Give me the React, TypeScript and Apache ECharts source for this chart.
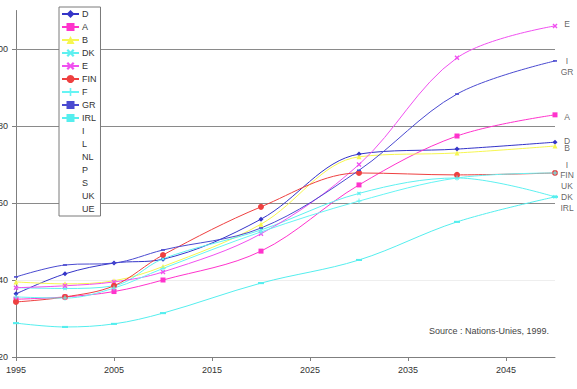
import React, { useEffect, useRef } from "react";
import * as echarts from "echarts";

// Years with projected values
const years = [1995, 2000, 2005, 2010, 2020, 2030, 2040, 2050];

// Axis tick values
const xTickYears = [1995, 2005, 2015, 2025, 2035, 2045];
const yTickValues = [20, 40, 60, 80, 100];
const gridValues = [40, 60, 80, 100];

// Series values per country
const dValues = [36.4, 41.6, 44.4, 45.4, 55.8, 72.7, 74.0, 75.8];
const aValues = [35.0, 35.6, 37.0, 40.0, 47.5, 64.7, 77.4, 82.9];
const bValues = [39.5, 39.0, 39.8, 43.5, 54.5, 72.0, 73.0, 74.8];
const dkValues = [38.0, 37.8, 38.5, 45.5, 53.0, 62.5, 66.5, 61.6];
const eValues = [38.0, 38.5, 39.5, 42.1, 52.0, 70.0, 97.7, 106.0];
const finValues = [34.3, 35.6, 38.5, 46.5, 59.0, 67.8, 67.3, 67.8];
const fValues = [35.6, 35.3, 37.9, 43.0, 52.5, 60.5, 66.5, 67.8];
const grValues = [40.8, 43.9, 44.4, 47.8, 53.5, 68.5, 88.3, 96.9];
const irlValues = [28.8, 27.8, 28.6, 31.4, 39.2, 45.2, 55.1, 61.6];

// Legend order
const countries = ["D", "A", "B", "DK", "E", "FIN", "F", "GR", "IRL", "I", "L", "NL", "P", "S", "UK", "UE"];

// Names written at the right end of the plot, with the level they sit at
const endLabelNames = ["E", "I", "GR", "A", "D", "B", "I", "FIN", "UK", "DK", "IRL"];
const endLabelLevels = [106.5, 97.0, 94.1, 82.3, 76.2, 74.3, 70.0, 67.3, 64.5, 61.6, 58.8];

const sourceNote = "Source : Nations-Unies, 1999.";

const valuesByCountry: Record<string, number[]> = {
  D: dValues,
  A: aValues,
  B: bValues,
  DK: dkValues,
  E: eValues,
  FIN: finValues,
  F: fValues,
  GR: grValues,
  IRL: irlValues,
};

const crossPath = "path://M0,2L2,0L5,3L8,0L10,2L7,5L10,8L8,10L5,7L2,10L0,8L3,5Z";
const plusPath = "path://M4,0H6V4H10V6H6V10H4V6H0V4H4Z";
const dashPath = "path://M0,0H10V4H0Z";
const barPath = "path://M0,0H10V3.5H0Z";

const styles: Record<string, { color: string; symbol: string; size: number | number[] }> = {
  D: { color: "#3434c8", symbol: "diamond", size: 5 },
  A: { color: "#ff33cc", symbol: "rect", size: 5 },
  B: { color: "#f6f650", symbol: "triangle", size: 5 },
  DK: { color: "#5ef0f0", symbol: crossPath, size: 4 },
  E: { color: "#f050f0", symbol: crossPath, size: 5 },
  FIN: { color: "#ee4040", symbol: "circle", size: 6 },
  F: { color: "#66f4f4", symbol: plusPath, size: 5 },
  GR: { color: "#4a4ad0", symbol: dashPath, size: 4 },
  IRL: { color: "#55eeee", symbol: barPath, size: 6 },
};

const FONT = "Liberation Sans, Arial, sans-serif";

export default function App() {
  const ref = useRef<HTMLDivElement>(null);

  useEffect(() => {
    if (!ref.current) return;
    const chart = echarts.init(ref.current, null, { renderer: "svg" });

    const series: any[] = countries.map((name, idx) => {
      const values = valuesByCountry[name];
      if (!values) {
        // countries drawn in white: present in the legend only
        return {
          type: "line",
          name,
          data: [],
          symbol: "none",
          lineStyle: { color: "#ffffff", width: 1 },
          itemStyle: { color: "#ffffff" },
        };
      }
      const st = styles[name];
      const s: any = {
        type: "line",
        name,
        data: years.map((y, i) => [y, values[i]]),
        smooth: 0.35,
        symbol: st.symbol,
        symbolSize: st.size,
        symbolKeepAspect: true,
        showSymbol: true,
        lineStyle: { color: st.color, width: 1 },
        itemStyle: { color: st.color },
        emphasis: { disabled: true },
        z: 3,
      };
      if (idx === 0) {
        s.markLine = {
          silent: true,
          symbol: ["none", "none"],
          label: { show: false },
          emphasis: { disabled: true },
          lineStyle: { color: "#8a8a8a", width: 1, type: "solid" },
          data: gridValues.map((v) =>
            v === 40
              ? { yAxis: v, lineStyle: { color: "#eeeeee", width: 1, type: "solid" } }
              : { yAxis: v }
          ),
          z: 1,
        };
      }
      return s;
    });

    series.push({
      type: "scatter",
      name: "end-names",
      silent: true,
      symbolSize: 0,
      data: endLabelNames.map((n, i) => ({ name: n, value: [2050, endLabelLevels[i]] })),
      label: {
        show: true,
        formatter: "{b}",
        position: [12, 0],
        align: "center",
        verticalAlign: "middle",
        fontSize: 8.5,
        fontFamily: FONT,
        color: "#3a3a3a",
      },
      z: 5,
    });

    chart.setOption({
      animation: false,
      backgroundColor: "#ffffff",
      grid: {
        left: 16,
        right: 22,
        top: 10.5,
        bottom: 32,
        containLabel: false,
        outerBoundsMode: "none",
      },
      legend: {
        data: countries,
        orient: "vertical",
        left: 59,
        top: 7,
        padding: [2, 4, 2, 2],
        itemGap: 3,
        itemWidth: 17,
        itemHeight: 10,
        backgroundColor: "#ffffff",
        borderColor: "#7a7a7a",
        borderWidth: 1,
        selectedMode: false,
        textStyle: { fontSize: 9, fontFamily: FONT, color: "#333333", padding: [0, 0, 0, -2], lineHeight: 10 },
        z: 10,
      },
      xAxis: {
        type: "value",
        min: 1995,
        max: 2050,
        axisLine: { show: true, lineStyle: { color: "#7f7f7f", width: 1 } },
        axisTick: { show: true, length: 4, customValues: xTickYears, lineStyle: { color: "#7f7f7f" } },
        axisLabel: {
          customValues: xTickYears,
          margin: 8,
          fontSize: 9,
          fontFamily: FONT,
          color: "#333333",
          formatter: (v: number) => String(v),
        },
        splitLine: { show: false },
      },
      yAxis: {
        type: "value",
        min: 20,
        max: 110,
        axisLine: { show: true, lineStyle: { color: "#7f7f7f", width: 1 } },
        axisTick: { show: true, length: 4, customValues: yTickValues, lineStyle: { color: "#7f7f7f" } },
        axisLabel: {
          customValues: yTickValues,
          margin: 8,
          fontSize: 9,
          fontFamily: FONT,
          color: "#333333",
        },
        splitLine: { show: false },
      },
      graphic: [
        {
          type: "text",
          right: 28,
          top: 326,
          style: { text: sourceNote, fontSize: 9, fontFamily: FONT, fill: "#444444" },
        },
      ],
      series,
    });

    return () => chart.dispose();
  }, []);

  return (
    <div
      ref={ref}
      style={{ position: "fixed", left: 0, top: 0, width: 577, height: 389, background: "#fff" }}
    />
  );
}
